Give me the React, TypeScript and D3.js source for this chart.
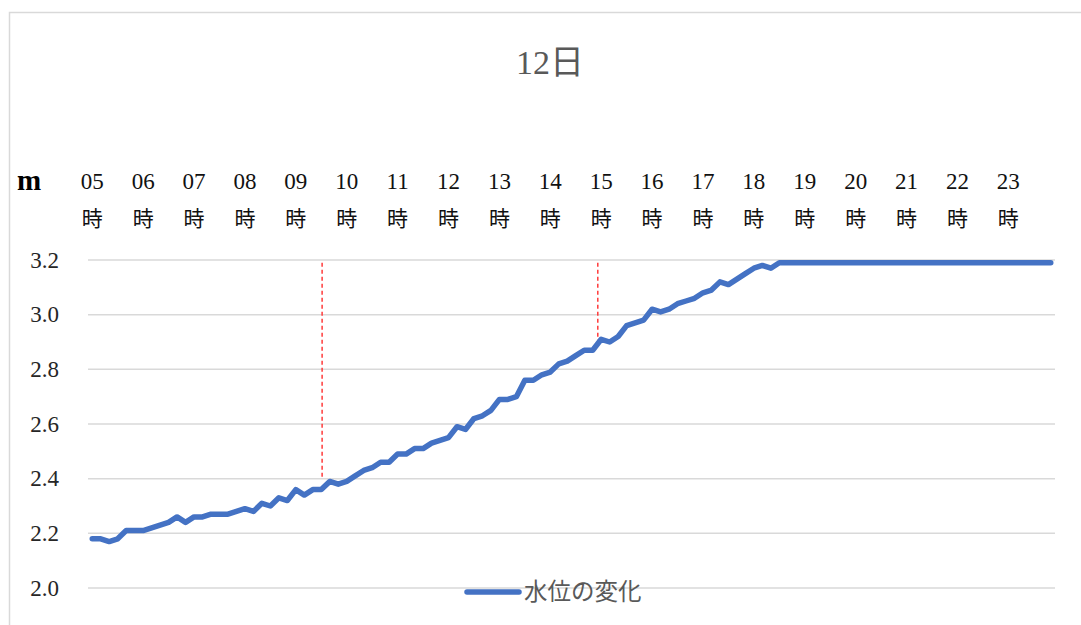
import React from "react";
import * as d3 from "d3";

const title = "12日";
const unitLabel = "m";
const seriesName = "水位の変化";
const hourLabels = ["05","06","07","08","09","10","11","12","13","14","15","16","17","18","19","20","21","22","23"];
const hourSuffix = "時";
const pointsPerHour = 6; // 10-minute readings
const yTicks = [2.0, 2.2, 2.4, 2.6, 2.8, 3.0, 3.2];

const waterLevel = [
  2.18, 2.18, 2.17, 2.18, 2.21, 2.21,
  2.21, 2.22, 2.23, 2.24, 2.26, 2.24,
  2.26, 2.26, 2.27, 2.27, 2.27, 2.28,
  2.29, 2.28, 2.31, 2.30, 2.33, 2.32,
  2.36, 2.34, 2.36, 2.36, 2.39, 2.38,
  2.39, 2.41, 2.43, 2.44, 2.46, 2.46,
  2.49, 2.49, 2.51, 2.51, 2.53, 2.54,
  2.55, 2.59, 2.58, 2.62, 2.63, 2.65,
  2.69, 2.69, 2.70, 2.76, 2.76, 2.78,
  2.79, 2.82, 2.83, 2.85, 2.87, 2.87,
  2.91, 2.90, 2.92, 2.96, 2.97, 2.98,
  3.02, 3.01, 3.02, 3.04, 3.05, 3.06,
  3.08, 3.09, 3.12, 3.11, 3.13, 3.15,
  3.17, 3.18, 3.17, 3.19, 3.19, 3.19,
  3.19, 3.19, 3.19, 3.19, 3.19, 3.19,
  3.19, 3.19, 3.19, 3.19, 3.19, 3.19,
  3.19, 3.19, 3.19, 3.19, 3.19, 3.19,
  3.19, 3.19, 3.19, 3.19, 3.19, 3.19,
  3.19, 3.19, 3.19, 3.19, 3.19, 3.19,
];

// red dashed marker lines: position in 10-minute steps from 05:00, and value span
const markerPos = [27.1, 59.6];
const markerFrom = [2.405, 2.895];
const markerTo = [3.19, 3.19];

const W = 1081;
const H = 625;

export default function App() {
  const n = hourLabels.length * pointsPerHour;
  const x = d3.scaleLinear().domain([-0.5, n - 0.5]).range([88, 1055]);
  const y = d3.scaleLinear().domain([2.0, 3.2]).range([588, 260]);
  const line = d3
    .line<number>()
    .x((_, i) => x(i))
    .y((d) => y(d));

  const serif = "'Liberation Serif', 'DejaVu Serif', 'Noto Sans CJK JP', serif";

  return (
    <svg
      width={W}
      height={H}
      style={{ position: "absolute", left: 0, top: 0, background: "#fff" }}
      fontFamily={serif}
    >
      <rect x={0} y={0} width={W} height={H} fill="#fff" />
      <rect x={9.5} y={12.5} width={1200} height={800} fill="#fff" stroke="#d9d9d9" strokeWidth={1.5} />

      <text x={550} y={62} textAnchor="middle" dominantBaseline="central" fontSize={34} fill="#595959">
        {title}
      </text>

      {/* gridlines */}
      {yTicks.map((t) => (
        <line key={t} x1={x.range()[0]} x2={x.range()[1]} y1={y(t)} y2={y(t)} stroke="#d9d9d9" strokeWidth={1.5} />
      ))}

      {/* y tick labels */}
      {yTicks.map((t) => (
        <text key={"l" + t} x={59} y={y(t)} textAnchor="end" dominantBaseline="central" fontSize={23} fill="#262626">
          {d3.format(".1f")(t)}
        </text>
      ))}

      {/* unit */}
      <text x={29} y={180} textAnchor="middle" dominantBaseline="central" fontSize={29} fontWeight="bold" fill="#000">
        {unitLabel}
      </text>

      {/* hour labels on top */}
      {hourLabels.map((h, k) => (
        <g key={h}>
          <text x={x(k * pointsPerHour)} y={181} textAnchor="middle" dominantBaseline="central" fontSize={23} fill="#111">
            {h}
          </text>
          <text x={x(k * pointsPerHour)} y={219} textAnchor="middle" dominantBaseline="central" fontSize={21} fill="#111">
            {hourSuffix}
          </text>
        </g>
      ))}

      {/* red dashed markers */}
      {markerPos.map((p, k) => (
        <line
          key={"m" + k}
          x1={x(p)}
          x2={x(p)}
          y1={y(markerTo[k])}
          y2={y(markerFrom[k])}
          stroke="#ff3b3b"
          strokeWidth={1.5}
          strokeDasharray="4 3"
        />
      ))}

      {/* series */}
      <path
        d={line(waterLevel) || ""}
        fill="none"
        stroke="#4472C4"
        strokeWidth={5.5}
        strokeLinejoin="round"
        strokeLinecap="round"
      />

      {/* legend */}
      <line x1={467} x2={519} y1={592} y2={592} stroke="#4472C4" strokeWidth={5.5} strokeLinecap="round" />
      <text x={524} y={592} dominantBaseline="central" fontSize={23.5} fill="#595959">
        {seriesName}
      </text>
    </svg>
  );
}
